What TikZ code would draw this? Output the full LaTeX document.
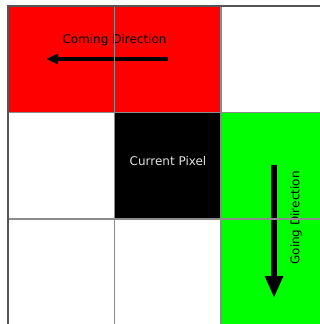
\documentclass[tikz,border=0pt]{standalone}
\usepackage{fontspec}
\setmainfont{DejaVu Sans}
\usetikzlibrary{positioning, arrows.meta}
\definecolor{gridgray}{RGB}{140,140,140}
\definecolor{edgegray}{RGB}{85,85,85}
\definecolor{pixred}{RGB}{255,0,0}
\definecolor{pixgreen}{RGB}{0,255,0}
\definecolor{labelgray}{RGB}{225,225,225}

\begin{document}
\begin{tikzpicture}[x=1pt, y=-1pt,
    cell/.style={minimum size=106.5pt, inner sep=0pt, anchor=north west, fill=white},
    gridline/.style={draw=gridgray, line width=1.3pt},
    caption/.style={font=\fontsize{12}{14}\selectfont, inner sep=0pt},
    dirarrow/.style={line width=4pt, -{Triangle[length=12pt, width=10pt]}}]
  \useasboundingbox (0,0) rectangle (320,324);
  \clip (0,0) rectangle (320,324);

  % pixel cells
  \foreach \i in {0,1,2}
    \foreach \j in {0,1,2}
      \node[cell] (c\i\j) at ({8+106.5*\i},{6+106.5*\j}) {};
  \node[cell, fill=pixred] (c00) at (8,6) {};
  \node[cell, fill=pixred] (c10) at (114.5,6) {};
  \node[cell, fill=black] (c11) at (114.5,112.5) {};
  \node[cell, fill=pixgreen] (c21) at (221,112.5) {};
  \node[cell, fill=pixgreen] (c22) at (221,219) {};

  % labels
  \node[caption] (coming) at (114.5,40) {Coming Direction};
  \node[caption, text=labelgray] (current) at (168,161) {Current Pixel};
  \node[caption, rotate=90] (going) at (296,218) {Going Direction};

  % arrows
  \coordinate (cstart) at (168,59);
  \coordinate (cend) at (46,59);
  \coordinate (gstart) at (274,165);
  \coordinate (gend) at (274,298);
  \draw[dirarrow] (cstart) -- (cend);
  \draw[dirarrow, line width=6.5pt, -{Triangle[length=22pt, width=17pt]}] (gstart) -- (gend);

  % grid lines
  \foreach \x in {114.5,221}
    \draw[gridline] (\x,6) -- (\x,330);
  \foreach \y in {112.5,219}
    \draw[gridline] (8,\y) -- (330,\y);
  \draw[draw=edgegray, line width=1.3pt] (8,330) -- (8,6) -- (330,6);
\end{tikzpicture}
\end{document}
